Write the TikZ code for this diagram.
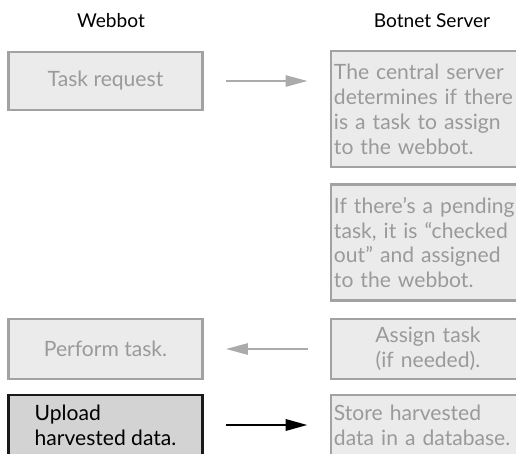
\documentclass[tikz,border=0pt]{standalone}
\usepackage{fontspec}
\setmainfont{Lato}
\usetikzlibrary{arrows.meta,positioning}
\definecolor{boxfill}{HTML}{EBEBEB}
\definecolor{boxline}{HTML}{A2A2A2}
\definecolor{boxtext}{HTML}{9A9A9A}
\definecolor{darkfill}{HTML}{D3D3D3}
\tikzset{
  lblk/.style={draw=boxline, fill=boxfill, text=boxtext, line width=2pt, rectangle, minimum width=4.85cm, align=center, font=\fontsize{15}{17.7}\selectfont},
  dblk/.style={lblk, draw=black!90, fill=darkfill, text=black, align=left},
  sblk/.style={lblk, text width=4.7cm, inner xsep=0.075cm, align=left},
  ttl/.style={font=\fontsize{13.6}{16}\selectfont},
  arr/.style={-{Triangle[length=0.55cm, width=0.28cm]}, line width=2pt, shorten <=0.55cm, shorten >=0.55cm},
  garr/.style={arr, draw=boxline!90, line width=1.5pt},
}

\begin{document}
\begin{tikzpicture}[x=0.025cm, y=-0.025cm]
\useasboundingbox (0,0) rectangle (516,454);

% Column titles
\node[ttl] (webbot) at (111,21) {Webbot};
\node[ttl] (server) at (432,21) {Botnet Server};

% Webbot side
\node[lblk, minimum height=1.45cm] (request) at (105.5,81) {Task request};
\node[lblk, minimum height=1.5cm] (perform) at (105.5,349) {Perform task.};
\node[dblk, minimum height=1.5cm] (upload) at (105.5,425) {Upload\\harvested data.};

% Server side
\node[sblk, minimum height=2.9cm] (check) at (428,109) {The central server\\determines if there\\is a task to assign\\to the webbot.};
\node[sblk, minimum height=2.9cm] (pending) at (428,242.5) {If there's a pending\\task, it is ``checked\\out'' and assigned\\to the webbot.};
\node[sblk, align=center, minimum height=1.5cm] (assign) at (428,349) {Assign task\\(if needed).};
\node[sblk, minimum height=1.5cm] (store) at (428,425) {Store harvested\\data in a database.};

% Messages
\draw[garr] (request.east) -- (request.east -| check.west);
\draw[garr] (assign.west) -- (assign.west -| perform.east);
\draw[arr] (upload.east) -- (upload.east -| store.west);

\end{tikzpicture}
\end{document}
